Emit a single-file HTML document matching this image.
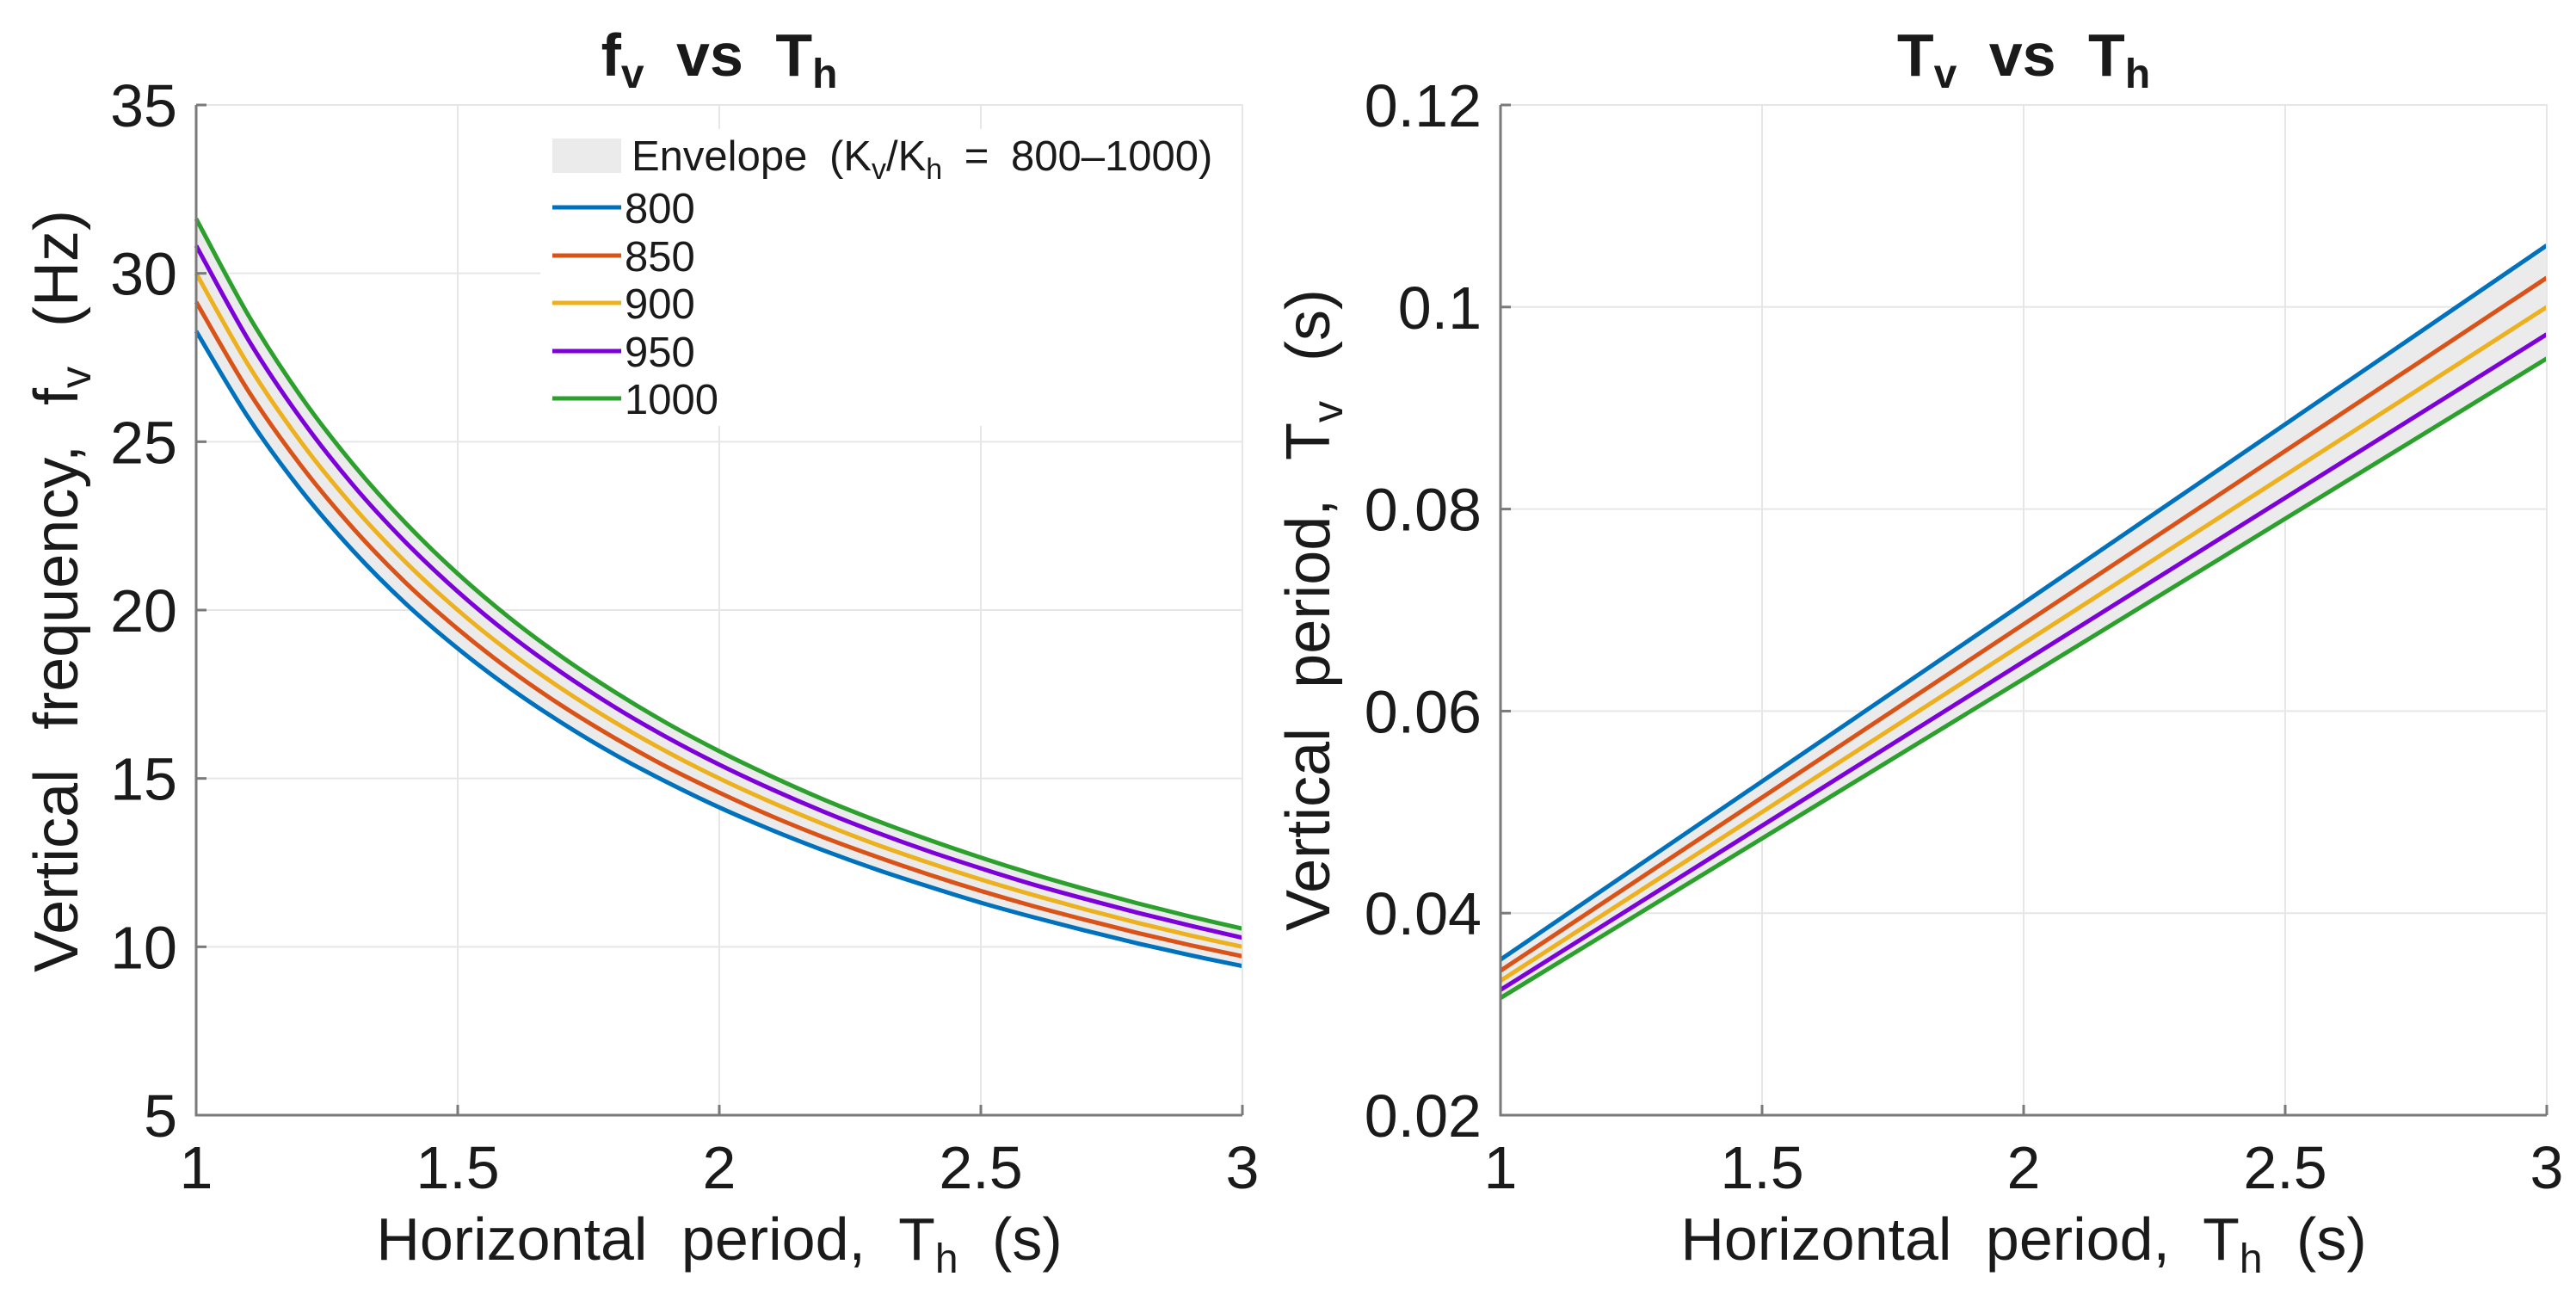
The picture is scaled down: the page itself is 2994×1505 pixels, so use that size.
<!DOCTYPE html>
<html><head><meta charset="utf-8">
<style>
html,body{margin:0;padding:0;background:#fff;}
svg{display:block;font-family:"Liberation Sans",Arial,sans-serif;}
</style></head>
<body>
<svg id="fig" width="2994" height="1505" viewBox="0 0 2994 1505" xmlns="http://www.w3.org/2000/svg"></svg>
<script>
// ---- data ----
const thSamples = [1,1.1,1.2,1.3,1.4,1.5,1.6,1.7,1.8,1.9,2,2.1,2.2,2.3,2.4,2.5,2.6,2.7,2.8,2.9,3];
const ratioLabels = ["800","850","900","950","1000"];
const fv800  = [28.28,25.71,23.57,21.76,20.20,18.86,17.68,16.64,15.71,14.89,14.14,13.47,12.86,12.30,11.79,11.31,10.88,10.48,10.10,9.75,9.43];
const fv850  = [29.15,26.50,24.30,22.43,20.82,19.44,18.22,17.15,16.20,15.34,14.58,13.88,13.25,12.68,12.15,11.66,11.21,10.80,10.41,10.05,9.72];
const fv900  = [30.00,27.27,25.00,23.08,21.43,20.00,18.75,17.65,16.67,15.79,15.00,14.29,13.64,13.04,12.50,12.00,11.54,11.11,10.71,10.34,10.00];
const fv950  = [30.82,28.02,25.69,23.71,22.02,20.55,19.26,18.13,17.12,16.22,15.41,14.68,14.01,13.40,12.84,12.33,11.85,11.42,11.01,10.63,10.27];
const fv1000 = [31.62,28.75,26.35,24.33,22.59,21.08,19.76,18.60,17.57,16.64,15.81,15.06,14.37,13.75,13.18,12.65,12.16,11.71,11.29,10.90,10.54];
const thLinear = [1,2,3];
const tv800  = [0.0354,0.0707,0.1061];
const tv850  = [0.0343,0.0686,0.1029];
const tv900  = [0.0333,0.0667,0.1000];
const tv950  = [0.0324,0.0649,0.0973];
const tv1000 = [0.0316,0.0632,0.0949];
const xTicks = [1,1.5,2,2.5,3];
const xTickLabels = ["1","1.5","2","2.5","3"];
const yTicksL = [5,10,15,20,25,30,35];
const yTickLabelsL = ["5","10","15","20","25","30","35"];
const yTicksR = [0.02,0.04,0.06,0.08,0.1,0.12];
const yTickLabelsR = ["0.02","0.04","0.06","0.08","0.1","0.12"];

const colors = ["#0072BD","#D95319","#EDB120","#7E00D9","#2CA02C"];
const NS = "http://www.w3.org/2000/svg";
const svg = document.getElementById("fig");
function mk(tag, attrs, parent){
  const e = document.createElementNS(NS, tag);
  for (const k in attrs) e.setAttribute(k, attrs[k]);
  (parent||svg).appendChild(e);
  return e;
}
function smoothPath(pts){
  let d = "M"+pts[0][0]+","+pts[0][1];
  for (let i=0;i<pts.length-1;i++){
    const p0 = pts[i-1]||pts[i], p1 = pts[i], p2 = pts[i+1], p3 = pts[i+2]||p2;
    const c1x = p1[0]+(p2[0]-p0[0])/6, c1y = p1[1]+(p2[1]-p0[1])/6;
    const c2x = p2[0]-(p3[0]-p1[0])/6, c2y = p2[1]-(p3[1]-p1[1])/6;
    d += " C"+c1x+","+c1y+" "+c2x+","+c2y+" "+p2[0]+","+p2[1];
  }
  return d;
}

function drawAxes(cfg){
  const g = mk("g", {});
  
  
  const X = v => cfg.x0 + (v-1)/(3-1)*(cfg.x1-cfg.x0);
  const Y = v => cfg.y1 - (v-cfg.ymin)/(cfg.ymax-cfg.ymin)*(cfg.y1-cfg.y0);
  xTicks.forEach((t,i)=>{
    const l = mk("line",{x1:X(t),x2:X(t),y1:cfg.y0,y2:cfg.y1,stroke:"#e6e6e6","stroke-width":2},g);
    
    
  });
  cfg.yTicks.forEach((t,i)=>{
    const l = mk("line",{x1:cfg.x0,x2:cfg.x1,y1:Y(t),y2:Y(t),stroke:"#e6e6e6","stroke-width":2},g);
    
    
  });
  const top = cfg.series[cfg.envTop], bot = cfg.series[cfg.envBot];
  const topPts = cfg.xs.map((x,i)=>[X(x),Y(top[i])]);
  const botPts = cfg.xs.map((x,i)=>[X(x),Y(bot[i])]).reverse();
  let d = smoothPath(topPts) + " L" + botPts[0][0]+","+botPts[0][1] + smoothPath(botPts).replace(/^M[^ ]+/,"") + " Z";
  const env = mk("path",{d:d,fill:"#ebebeb",stroke:"none"},g);
  
  
  cfg.series.forEach((s,k)=>{
    const pts = cfg.xs.map((x,i)=>[X(x),Y(s[i])]);
    const p = mk("path",{d:smoothPath(pts),fill:"none",stroke:colors[k],"stroke-width":5,"stroke-linejoin":"round"},g);
    
    
  });
  const ax = mk("path",{d:`M${cfg.x0},${cfg.y0} V${cfg.y1} H${cfg.x1}`,fill:"none",stroke:"#7a7a7a","stroke-width":3},g);
  
  
  const bx = mk("path",{d:`M${cfg.x0},${cfg.y0} H${cfg.x1} V${cfg.y1}`,fill:"none",stroke:"#e6e6e6","stroke-width":2},g);
  
  
  xTicks.forEach((t,i)=>{
    mk("line",{x1:X(t),x2:X(t),y1:cfg.y1,y2:cfg.y1-12,stroke:"#7a7a7a","stroke-width":3},g);
    const tx = mk("text",{x:X(t),y:cfg.y1+85,"font-size":70,"text-anchor":"middle",fill:"#1a1a1a"},g);
    tx.textContent = xTickLabels[i];
    
    
  });
  cfg.yTicks.forEach((t,i)=>{
    mk("line",{x1:cfg.x0,x2:cfg.x0+12,y1:Y(t),y2:Y(t),stroke:"#7a7a7a","stroke-width":3},g);
    const tx = mk("text",{x:cfg.x0-22,y:Y(t)+25,"font-size":70,"text-anchor":"end",fill:"#1a1a1a"},g);
    tx.textContent = cfg.yTickLabels[i];
    
    
  });
  const cx = (cfg.x0+cfg.x1)/2;
  const xt = mk("text",{x:cx,y:1464,"font-size":70,"text-anchor":"middle",fill:"#1a1a1a","word-spacing":"20"},g);
  xt.innerHTML = 'Horizontal period, T<tspan font-size="48" dy="15">h</tspan><tspan dy="-15"> (s)</tspan>';
  
  
  const yt = mk("text",{x:0,y:0,"font-size":72,"text-anchor":"middle",fill:"#1a1a1a","word-spacing":"26",transform:`translate(${cfg.ytx},${cfg.ytc}) rotate(-90)`},g);
  yt.innerHTML = cfg.ytitle;
  
  
  const tt = mk("text",{x:cx,y:88,"font-size":70,"font-weight":"bold","text-anchor":"middle",fill:"#1a1a1a","word-spacing":"18"},g);
  tt.innerHTML = cfg.title;
  
  
  return g;
}

drawAxes({name:"left-axes",x0:228,x1:1444,y0:122,y1:1296,ymin:5,ymax:35,
  yTicks:yTicksL,yTickLabels:yTickLabelsL,xs:thSamples,
  series:[fv800,fv850,fv900,fv950,fv1000],envTop:4,envBot:0,ytx:90,ytc:687,
  ytitle:'Vertical frequency, f<tspan font-size="50" dy="15">v</tspan><tspan dy="-15"> (Hz)</tspan>',
  title:'f<tspan font-size="48" dy="14">v</tspan><tspan dy="-14"> vs T</tspan><tspan font-size="48" dy="14">h</tspan>'});
drawAxes({name:"right-axes",x0:1744,x1:2960,y0:122,y1:1296,ymin:0.02,ymax:0.12,
  yTicks:yTicksR,yTickLabels:yTickLabelsR,xs:thLinear,
  series:[tv800,tv850,tv900,tv950,tv1000],envTop:0,envBot:4,ytx:1545,ytc:709,
  ytitle:'Vertical period, T<tspan font-size="50" dy="15">v</tspan><tspan dy="-15"> (s)</tspan>',
  title:'T<tspan font-size="48" dy="14">v</tspan><tspan dy="-14"> vs T</tspan><tspan font-size="48" dy="14">h</tspan>'});

const lg = mk("g",{});


mk("rect",{x:628,y:150,width:815,height:345,fill:"#fff"},lg);
const patch = mk("rect",{x:642,y:161,width:80,height:40,fill:"#ebebeb"},lg);


const et = mk("text",{x:734,y:198,"font-size":49,fill:"#1a1a1a","word-spacing":"12"},lg);
et.innerHTML = 'Envelope (K<tspan font-size="34" dy="10">v</tspan><tspan dy="-10">/K</tspan><tspan font-size="34" dy="10">h</tspan><tspan dy="-10"> = 800–1000)</tspan>';


const rowY = [241,297,352,408,463];
ratioLabels.forEach((lab,k)=>{
  const ln = mk("line",{x1:642,x2:722,y1:rowY[k],y2:rowY[k],stroke:colors[k],"stroke-width":5},lg);
  
  
  const t = mk("text",{x:726,y:rowY[k]+18,"font-size":49,fill:"#1a1a1a"},lg);
  t.textContent = lab;
  
  
});
</script>
</body></html>
